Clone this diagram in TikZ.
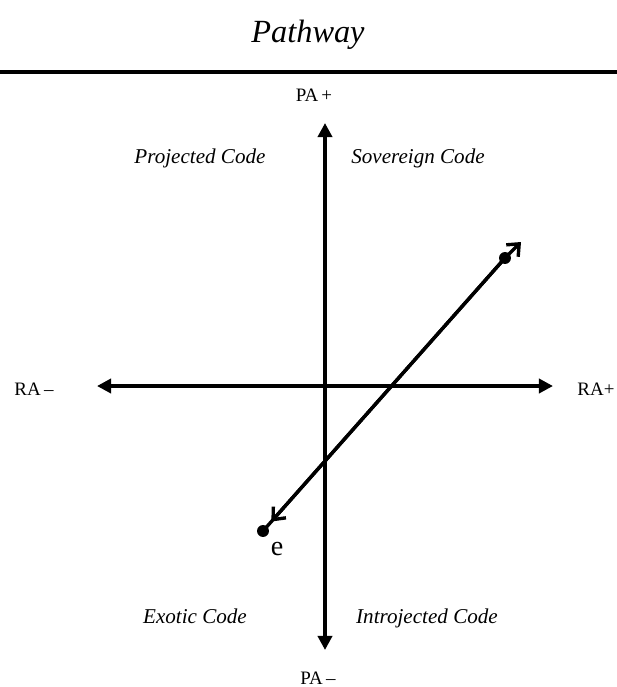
\documentclass[tikz,border=0pt]{standalone}
\usepackage{fontspec}
\setmainfont{Liberation Serif}
\usetikzlibrary{arrows.meta,calc}

\tikzset{
	axis/.style={line width=3pt, {Triangle[length=10pt,width=10pt]}-{Triangle[length=10pt,width=10pt]}},
	diag/.style={line width=2.4pt},
	barb/.style={line width=2.4pt, -{Straight Barb[length=7pt,width=12pt]}},
	dot/.style={circle, fill=black, inner sep=0pt, minimum size=8.5pt},
	axislabel/.style={anchor=base, font=\fontsize{13.5}{16}\selectfont},
	codelabel/.style={anchor=base, font=\fontsize{15}{18}\selectfont\itshape}
}

\begin{document}
\begin{tikzpicture}[x=0.025cm, y=-0.025cm]
	\useasboundingbox (0,0) rectangle (617,687);
	
	% Draw the title and the rule below it
	\node[anchor=base, font=\fontsize{23}{27}\selectfont\itshape] (title) at (308,42) {Pathway};
	\draw[line width=2.2pt] (0,72) -- (617,72);
	
	% Axis end points
	\coordinate (top) at (325,123);
	\coordinate (bot) at (325,650);
	\coordinate (left) at (97,386);
	\coordinate (right) at (553,386);
	
	% Draw the two axes
	\draw[axis] (bot) -- (top);
	\draw[axis] (left) -- (right);
	
	% Draw the axis labels
	\node[axislabel] (paplus) at (314,101) {PA\,+};
	\node[axislabel] (paminus) at (318,684) {PA\,--};
	\node[axislabel] (raminus) at (34,395) {RA\,--};
	\node[axislabel] (raplus) at (596,395) {RA+};
	
	% Draw the four codes
	\foreach \x/\y/\name in {200/163/Projected Code, 418/163/Sovereign Code, 195/623/Exotic Code, 427/623/Introjected Code} {
		\node[codelabel] at (\x,\y) {\name};
	}
	
	% Draw the pathway from e
	\node[dot] (e) at (263,531) {};
	\node[dot] (s) at (505,258) {};
	\node[font=\fontsize{20}{24}\selectfont] (elabel) at (277,549) {e};
	\coordinate (tip) at (521,242);
	\coordinate (lowtip) at ($(e.center)!9pt!(s.center)$);
	\draw[diag] (e.center) -- (s.center);
	\draw[barb] (s.center) -- (tip);
	\draw[barb] (s.center) -- (lowtip);
	
\end{tikzpicture}
\end{document}
